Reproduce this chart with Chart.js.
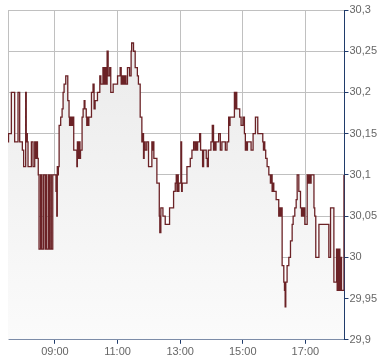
<!DOCTYPE html>
<html>
<head>
<meta charset="utf-8">
<script src="https://cdn.jsdelivr.net/npm/chart.js@4"></script>
<style>
    html, body { margin: 0; padding: 0; background: #fff; }
    #wrap { width: 390px; height: 364px; }
</style>
</head>
<body>
<div id="wrap"><canvas id="priceChart"></canvas></div>
<script>
// Intraday price, step line. Times are minutes after the 07:30 session open.
const sessionStart = 450;   // 07:30
const sessionEnd = 1095;    // 18:15

const tradeMinutes = [
    0, 1, 6.4, 12.8, 19.2, 22.4, 27.5, 30, 33.9, 35, 36, 37, 38.4, 44.8, 48, 51.2, 52, 53, 54.5, 55.5,
    56.5, 58, 59.5, 62.5, 64.7, 67.8, 71, 73, 74, 77.4, 79.3, 82, 83, 85.8,
    92, 93.5, 94.5, 95.5, 96.5, 98, 101, 103.7, 105.6, 107.5, 110.7, 114.6, 117, 118, 119, 120, 121, 122, 123.5, 126,
    132, 133, 134, 135, 136, 137, 138, 139, 142, 144, 146, 147.5, 150, 151, 152, 153, 155, 160, 163, 165,
    167, 171.5, 176, 178, 182, 184, 186, 188, 190, 192, 195, 197, 201.6, 210, 215, 217, 218.5, 220, 221.5, 223,
    224.5, 226, 229, 233, 236, 237, 240.6, 243.8, 248, 250, 253.4, 256.6, 258.5, 259.8, 261, 263, 266, 269.4, 275.8, 277,
    278.4, 279.6, 285.4, 290, 291, 293, 297, 301.4, 309.7, 317.4, 320.6, 322.5, 323.8, 325, 326.4, 327.6, 331.5, 332.8, 334, 343,
    349.4, 352.6, 355.8, 358.4, 359.6, 361.6, 363.5, 367.3, 369.2, 373, 375, 380, 382, 384, 389, 391.6, 394, 395.5, 396.8, 398.7,
    403.8, 407, 410, 416.6, 419.8, 423, 424.3, 425.6, 434, 436, 437, 438.5, 444.2, 446.8, 450.6, 453.2, 455, 456.4, 457.7, 459,
    466, 469.8, 474.3, 478.8, 488.4, 489.7, 491, 492.2, 494, 496.7, 500, 503, 505, 506.3, 507.6, 509.5, 514, 519, 520.4, 521.7,
    523.6, 525.5, 528.7, 530, 531.3, 532.5, 535, 538.3, 541.5, 544.7, 546.6, 549.8, 552.4, 554.3, 557.5, 560.7, 562.6, 563.9, 565, 567,
    569, 573.5, 574.8, 576.7, 578.6, 581, 585, 586.5, 588, 590, 596, 615, 618.3, 624.7, 629.8, 631, 632.4, 633.7, 635, 636.2,
    637.5, 639.4, 644
];

const tradePrices = [
    30.14, 30.15, 30.20, 30.14, 30.20, 30.14, 30.13, 30.11, 30.20, 30.14, 30.15, 30.14, 30.11, 30.14, 30.11, 30.14, 30.12, 30.14, 30.12, 30.14,
    30.12, 30.10, 30.01, 30.10, 30.01, 30.10, 30.01, 30.10, 30.01, 30.10, 30.01, 30.10, 30.01, 30.10,
    30.08, 30.05, 30.11, 30.10, 30.11, 30.16, 30.17, 30.18, 30.20, 30.21, 30.22, 30.19, 30.17, 30.16, 30.17, 30.16, 30.17, 30.16, 30.17, 30.13,
    30.11, 30.14, 30.12, 30.14, 30.12, 30.14, 30.12, 30.13, 30.17, 30.18, 30.19, 30.18, 30.17, 30.16, 30.17, 30.16, 30.17, 30.20, 30.21, 30.18,
    30.19, 30.20, 30.22, 30.21, 30.23, 30.21, 30.23, 30.21, 30.25, 30.22, 30.23, 30.20, 30.21, 30.22, 30.23, 30.21, 30.22, 30.21, 30.22, 30.21,
    30.22, 30.21, 30.23, 30.22, 30.25, 30.26, 30.25, 30.23, 30.22, 30.21, 30.17, 30.14, 30.15, 30.12, 30.14, 30.13, 30.14, 30.11, 30.14, 30.13,
    30.14, 30.12, 30.09, 30.05, 30.03, 30.06, 30.05, 30.04, 30.06, 30.08, 30.09, 30.10, 30.08, 30.10, 30.08, 30.09, 30.14, 30.08, 30.09, 30.11,
    30.12, 30.13, 30.14, 30.13, 30.14, 30.13, 30.14, 30.15, 30.13, 30.11, 30.13, 30.12, 30.11, 30.13, 30.14, 30.16, 30.13, 30.14, 30.13, 30.14,
    30.15, 30.13, 30.14, 30.13, 30.14, 30.17, 30.16, 30.17, 30.20, 30.18, 30.20, 30.18, 30.17, 30.16, 30.17, 30.15, 30.13, 30.14, 30.13, 30.14,
    30.13, 30.15, 30.17, 30.15, 30.14, 30.13, 30.14, 30.13, 30.12, 30.11, 30.10, 30.09, 30.10, 30.08, 30.09, 30.08, 30.07, 30.05, 30.06, 30.05,
    30.06, 29.99, 29.97, 29.96, 29.94, 29.97, 29.99, 30.00, 30.02, 30.04, 30.05, 30.06, 30.07, 30.10, 30.08, 30.06, 30.05, 30.06, 30.05, 30.06,
    30.04, 30.10, 30.09, 30.10, 30.09, 30.10, 30.10, 30.06, 30.05, 30.00, 30.04, 30.00, 30.06, 29.97, 30.01, 29.96, 30.01, 29.96, 30.01, 29.96,
    30.00, 29.96, 30.10
];

const timeTicks = ['09:00', '11:00', '13:00', '15:00', '17:00'];
const priceMin = 29.9;
const priceMax = 30.3;
const priceStep = 0.05;

function toMinutes(label) {
    const parts = label.split(':');
    return parseInt(parts[0], 10) * 60 + parseInt(parts[1], 10);
}

function pad(n) {
    return (n < 10 ? '0' : '') + n;
}

const points = tradeMinutes.map((m, i) => ({ x: sessionStart + m, y: tradePrices[i] }));

// Grey line along the left edge of the plot
const leftEdge = {
    id: 'leftEdge',
    beforeDatasetsDraw(chart) {
        const a = chart.chartArea;
        const c = chart.ctx;
        c.save();
        c.strokeStyle = '#c0c0c0';
        c.lineWidth = 1;
        c.beginPath();
        c.moveTo(a.left + 0.5, a.top);
        c.lineTo(a.left + 0.5, a.bottom);
        c.stroke();
        c.restore();
    }
};

const ctx = document.getElementById('priceChart').getContext('2d');

const chart = new Chart(ctx, {
    type: 'line',
    data: {
        datasets: [{
            data: points,
            stepped: true,
            borderColor: '#6b2226',
            borderWidth: 1.3,
            pointRadius: 0,
            fill: 'start',
            backgroundColor: (context) => {
                const area = context.chart.chartArea;
                if (!area) return '#eeeeee';
                const g = context.chart.ctx.createLinearGradient(0, area.top, 0, area.bottom);
                g.addColorStop(0, '#e9e9e9');
                g.addColorStop(1, '#fbfbfb');
                return g;
            }
        }]
    },
    options: {
        responsive: true,
        maintainAspectRatio: false,
        animation: false,
        layout: {
            padding: { left: 8, top: 10, right: 12, bottom: 3 }
        },
        plugins: {
            legend: { display: false },
            tooltip: { enabled: false }
        },
        scales: {
            x: {
                type: 'linear',
                min: sessionStart,
                max: sessionEnd,
                afterBuildTicks: (scale) => {
                    scale.ticks = timeTicks.map(t => ({ value: toMinutes(t) }));
                },
                ticks: {
                    color: '#666',
                    font: { family: 'Liberation Sans', size: 11 },
                    padding: 2,
                    maxRotation: 0,
                    callback: (v) => pad(Math.floor(v / 60)) + ':' + pad(v % 60)
                },
                grid: {
                    color: '#c0c0c0',
                    tickColor: '#1f3b6b',
                    tickLength: 4
                },
                border: { color: '#1f3b6b', width: 1 }
            },
            y: {
                position: 'right',
                min: priceMin,
                max: priceMax,
                ticks: {
                    stepSize: priceStep,
                    color: '#666',
                    font: { family: 'Liberation Sans', size: 11 },
                    padding: 1,
                    callback: (v) => String(Math.round(v * 100) / 100).replace('.', ',')
                },
                grid: {
                    color: '#c0c0c0',
                    tickColor: '#1f3b6b',
                    tickLength: 4
                },
                border: { color: '#1f3b6b', width: 1 }
            }
        }
    },
    plugins: [leftEdge]
});
</script>
</body>
</html>
